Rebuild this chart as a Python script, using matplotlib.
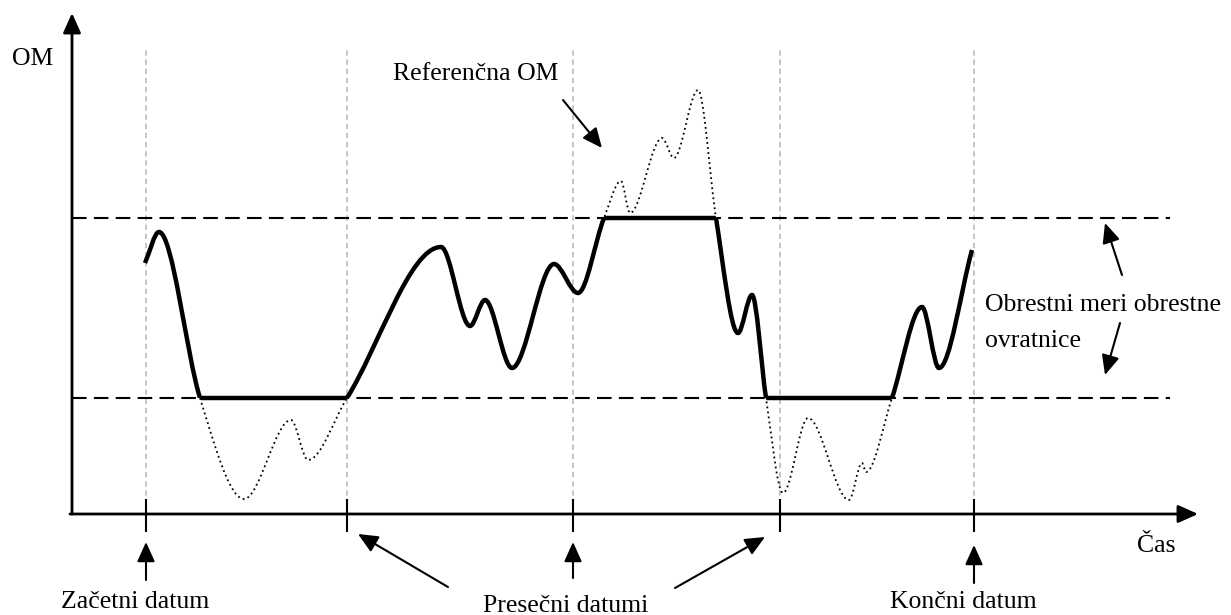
"""Interest rate collar schematic: reference rate clipped between cap and floor."""
import numpy as np
import matplotlib
matplotlib.use("Agg")
import matplotlib.pyplot as plt  # noqa: E402
from matplotlib.path import Path  # noqa: E402
from matplotlib.patches import PathPatch, Rectangle  # noqa: E402

# schematic values (time units, rate units)
date_t = [7.4, 27.5, 50.1, 70.8, 90.2]
cap_rate = 2.96
floor_rate = 1.16

# reference rate, knots
ref_t = [7.3, 8.7, 12.8, 17.2, 21.9, 23.6, 27.5, 36.9, 39.8, 41.3,
         44.0, 48.2, 50.6, 53.2, 54.9, 55.8, 59.0, 60.2, 62.6, 64.4, 66.6,
         68.0, 69.4, 71.1, 73.6, 77.7, 79.0, 79.4, 82.0, 85.0, 86.7, 90.0]
ref_r = [2.51, 2.82, 1.16, 0.15, 0.94, 0.54, 1.16, 2.67, 1.88, 2.14,
         1.46, 2.50, 2.21, 2.96, 3.33, 3.01, 3.76, 3.56, 4.24, 2.96, 1.81,
         2.19, 1.16, 0.21, 0.96, 0.14, 0.51, 0.42, 1.16, 2.07, 1.46, 2.64]

FONT = ["Liberation Serif", "DejaVu Serif"]
FS = 18.5


def smooth_path(xs, ys):
    """Cubic Hermite through knots (flat at extrema), as Bezier segments."""
    x = np.asarray(xs, float)
    y = np.asarray(ys, float)
    h = np.diff(x)
    d = np.diff(y) / h
    m = np.zeros_like(x)
    m[0], m[-1] = d[0], d[-1]
    for k in range(1, len(x) - 1):
        if d[k - 1] * d[k] > 0:
            m[k] = (h[k] * d[k - 1] + h[k - 1] * d[k]) / (h[k - 1] + h[k])
    verts = [(x[0], y[0])]
    codes = [Path.MOVETO]
    for k in range(len(h)):
        verts += [(x[k] + h[k] / 3, y[k] + m[k] * h[k] / 3),
                  (x[k + 1] - h[k] / 3, y[k + 1] - m[k + 1] * h[k] / 3),
                  (x[k + 1], y[k + 1])]
        codes += [Path.CURVE4] * 3
    return verts, codes


def arrow(ax, tail, tip, lw=1.5):
    ax.annotate("", xy=tip, xytext=tail,
                arrowprops=dict(arrowstyle="-|>,head_length=0.4,head_width=0.18",
                                mutation_scale=30, lw=lw, color="black",
                                shrinkA=0, shrinkB=0))


fig = plt.figure(figsize=(12.31, 6.15), dpi=100)
ax = fig.add_axes([0, 0, 1, 1])
ax.set_xlim(-7.2, 115.9)
ax.set_ylim(-1.01, 5.14)
ax.axis("off")

# date guides and ticks
for t in date_t:
    ax.plot([t, t], [0, 4.64], color="#b4b4b4", lw=1.1, ls=(0, (3.5, 2.5)), zorder=1)
    ax.plot([t, t], [0.14, -0.17], color="black", lw=1.5, zorder=3)

# cap / floor levels
for r in (cap_rate, floor_rate):
    ax.plot([0, 109.8], [r, r], color="black", lw=1.5, ls=(0, (7, 3.5)), zorder=2)

verts, codes = smooth_path(ref_t, ref_r)
curve = Path(verts, codes)

# dotted reference rate outside the collar band
lo, hi = -5, 10
for y0, y1 in ((cap_rate, hi), (lo, floor_rate)):
    p = PathPatch(curve, fill=False, lw=1.3, ls=(0, (1, 1.8)), color="black", zorder=3)
    ax.add_patch(p)
    clip = Rectangle((-10, y0), 200, y1 - y0, transform=ax.transData)
    p.set_clip_path(clip)

# bold collared rate inside the band
bold = PathPatch(curve, fill=False, lw=3.2, color="black", capstyle="butt", zorder=4)
ax.add_patch(bold)
bold.set_clip_path(Rectangle((-10, floor_rate), 200, cap_rate - floor_rate,
                             transform=ax.transData))

# bold flat parts where the reference leaves the band
below = Path(verts + [(ref_t[-1], lo), (ref_t[0], lo), (ref_t[0], lo)],
             codes + [Path.LINETO, Path.LINETO, Path.CLOSEPOLY])
above = Path(verts + [(ref_t[-1], hi), (ref_t[0], hi), (ref_t[0], hi)],
             codes + [Path.LINETO, Path.LINETO, Path.CLOSEPOLY])
cap_line, = ax.plot([ref_t[0], ref_t[-1]], [cap_rate, cap_rate], color="black",
                    lw=3.2, solid_capstyle="butt", zorder=4)
cap_line.set_clip_path(below, ax.transData)
floor_line, = ax.plot([ref_t[0], ref_t[-1]], [floor_rate, floor_rate], color="black",
                      lw=3.2, solid_capstyle="butt", zorder=4)
floor_line.set_clip_path(above, ax.transData)

# axes with arrow heads
arrow(ax, (0, 0), (0, 5.01), lw=2)
arrow(ax, (-0.2, 0), (112.6, 0), lw=2)

txt = dict(family=FONT, fontsize=FS, va="baseline")
ax.text(-6.0, 4.49, "OM", ha="left", **txt)
ax.text(106.5, -0.38, "Čas", ha="left", **txt)
ax.text(32.1, 4.34, "Referenčna OM", ha="left", **txt)
arrow(ax, (49.1, 4.14), (53.0, 3.66))

ax.text(91.3, 2.03, "Obrestni meri obrestne", ha="left", **txt)
ax.text(91.3, 1.67, "ovratnice", ha="left", **txt)
arrow(ax, (105.0, 2.39), (103.3, 2.91))
arrow(ax, (104.8, 1.91), (103.3, 1.39))

ax.text(6.35, -0.94, "Začetni datum", ha="center", **txt)
ax.text(49.4, -0.98, "Presečni datumi", ha="center", **txt)
ax.text(89.1, -0.94, "Končni datum", ha="center", **txt)
arrow(ax, (date_t[0], -0.66), (date_t[0], -0.28))
arrow(ax, (date_t[2], -0.64), (date_t[2], -0.28))
arrow(ax, (date_t[4], -0.69), (date_t[4], -0.31))
arrow(ax, (37.6, -0.73), (28.6, -0.20))
arrow(ax, (60.3, -0.74), (69.3, -0.23))

fig.savefig("out.png", dpi=100)
plt.close(fig)
